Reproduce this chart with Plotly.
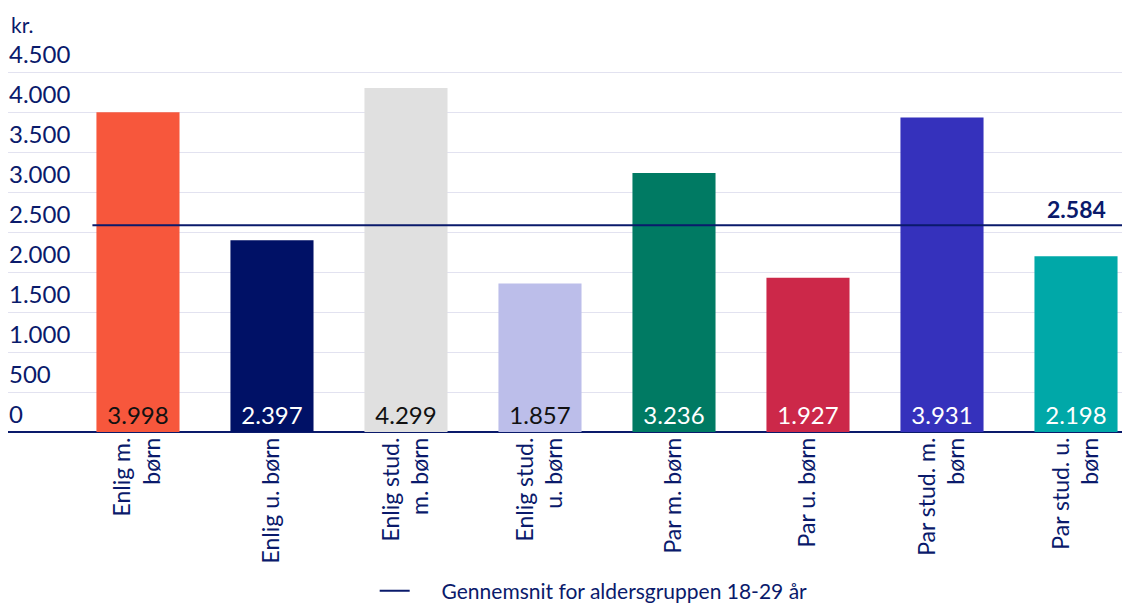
import plotly.graph_objects as go

categories = ["Enlig m.<br>børn", "Enlig u. børn", "Enlig stud.<br>m. børn", "Enlig stud.<br>u. børn",
              "Par m. børn", "Par u. børn", "Par stud. m.<br>børn", "Par stud. u.<br>børn"]
values = [3998, 2397, 4299, 1857, 3236, 1927, 3931, 2198]
bar_colors = ["#F7573C", "#001166", "#E0E0E0", "#BCBEEA", "#007A63", "#CC2849", "#3531BC", "#00A8A8"]
label_colors = ["#111111", "#FFFFFF", "#111111", "#111111", "#FFFFFF", "#FFFFFF", "#FFFFFF", "#FFFFFF"]
average = 2584
average_name = "Gennemsnit for aldersgruppen 18-29 år"
yticks = [0, 500, 1000, 1500, 2000, 2500, 3000, 3500, 4000, 4500]

NAVY = "#0A1A6B"
FONT = "Lato"

idx = list(range(len(categories)))

fig = go.Figure()
fig.add_trace(go.Bar(
    x=idx, y=values, width=0.62,
    marker=dict(color=bar_colors, line=dict(width=0)),
    texttemplate="%{y:,d}", textposition="inside", insidetextanchor="start",
    insidetextfont=dict(color=label_colors, size=24, family=FONT),
    constraintext="none", showlegend=False, hoverinfo="skip",
))
fig.add_trace(go.Scatter(
    x=[-0.34, 7.41], y=[average, average], mode="lines",
    line=dict(color=NAVY, width=2), name="\u00a0" * 5 + average_name, showlegend=True,
))

fig.add_annotation(x=7, y=average, xref="x", yref="y", text="<b>%s</b>" % f"{average:,}".replace(",", "."),
                   showarrow=False, yanchor="bottom", yshift=0, font=dict(size=23, color=NAVY, family=FONT))
fig.add_annotation(x=0, y=1, xref="paper", yref="paper", text="kr.", showarrow=False,
                   xanchor="left", yanchor="middle", xshift=1, yshift=0, font=dict(size=21, color=NAVY, family=FONT))

fig.update_layout(
    width=1122, height=598,
    margin=dict(l=0, r=0, t=16, b=174, autoexpand=False),
    plot_bgcolor="white", paper_bgcolor="white",
    separators=",.",
    font=dict(family=FONT, color=NAVY),
    legend=dict(orientation="h", x=0.522, xanchor="center", y=-0.39, yanchor="middle",
                font=dict(size=21, color=NAVY, family=FONT)),
    xaxis=dict(
        range=[-0.97, 7.403], tickmode="array", tickvals=idx, ticktext=categories,
        tickangle=-90, tickfont=dict(size=23, color=NAVY, family=FONT),
        showgrid=False, showline=False, zeroline=False, ticks="", automargin=False,
    ),
    yaxis=dict(
        range=[0, 5100], tickvals=yticks, tickformat=",d",
        ticklabelposition="inside", ticklabelshift=-17, ticklabelstandoff=-2,
        tickfont=dict(size=24, color=NAVY, family=FONT),
        showgrid=True, gridcolor="#E2E2F0", gridwidth=1,
        zeroline=True, zerolinecolor=NAVY, zerolinewidth=2,
        showline=False, ticks="", automargin=False,
    ),
)

fig.write_html("out.html")
